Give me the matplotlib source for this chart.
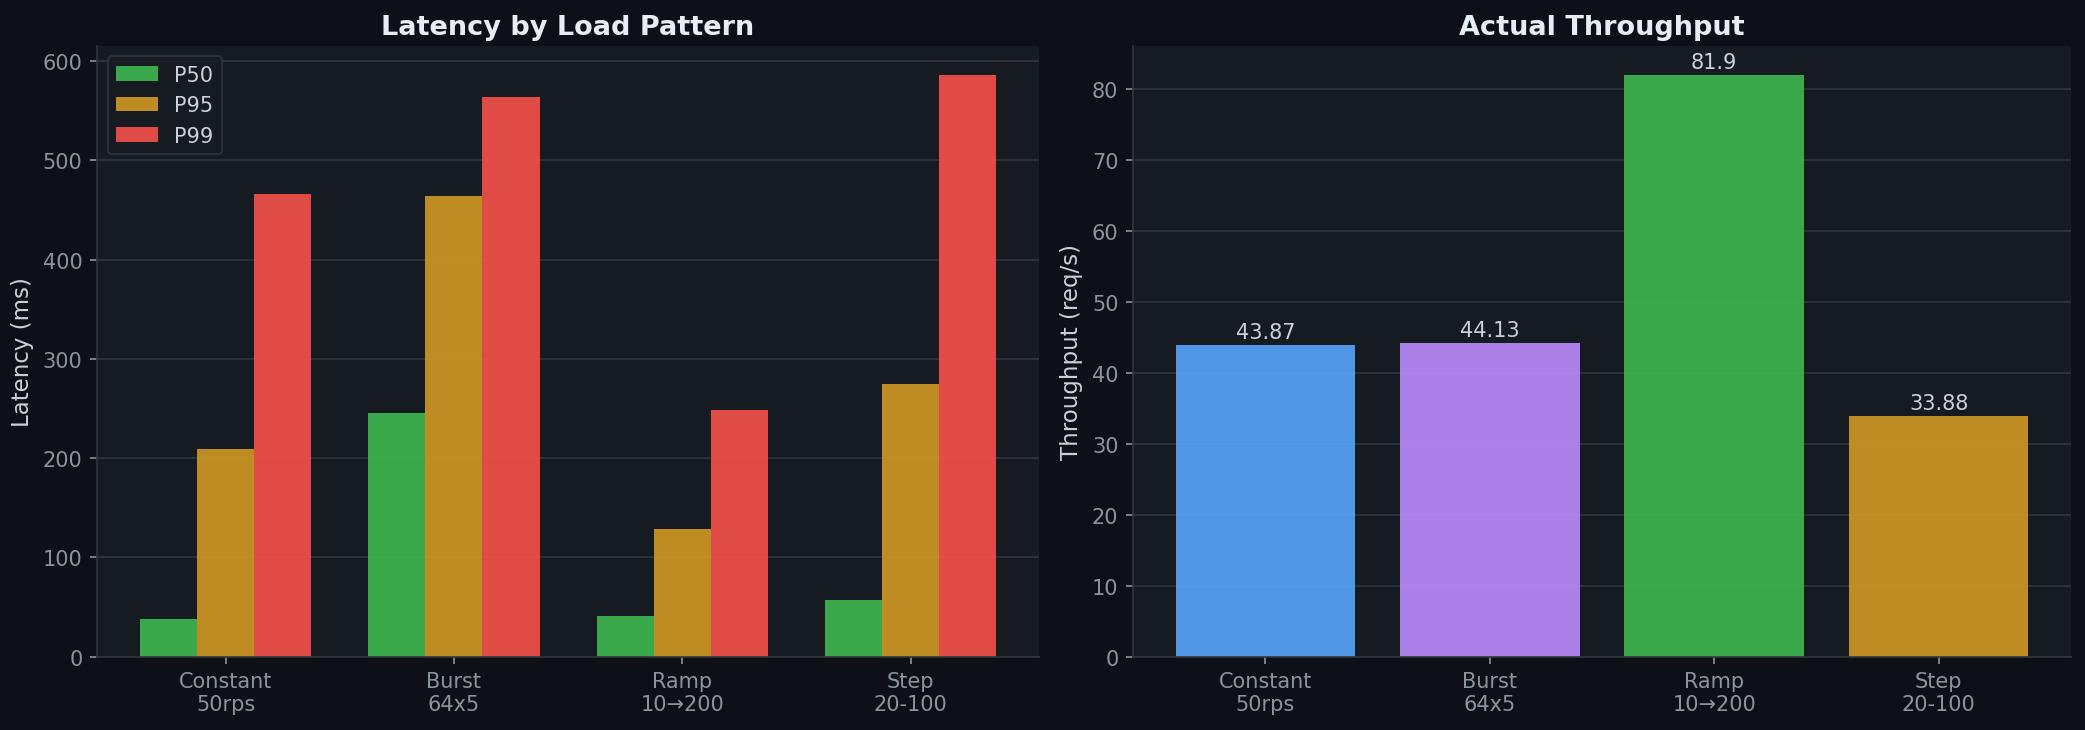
import numpy as np
import matplotlib
matplotlib.use("Agg")
import matplotlib.pyplot as plt

# data
patterns = ["Constant\n50rps", "Burst\n64x5", "Ramp\n10→200", "Step\n20-100"]
p50 = [38, 246, 41, 57]
p95 = [209, 464, 129, 275]
p99 = [466, 564, 249, 586]
throughput = [43.87, 44.13, 81.9, 33.88]
throughput_labels = ["43.87", "44.13", "81.9", "33.88"]

# github-dark style colours
BG = "#0d1117"
PANEL = "#161b22"
GRID = "#30363d"
TXT = "#e6edf3"
TICK = "#8b949e"
LABEL = "#c9d1d9"
GREEN = "#3fb950"
ORANGE = "#d29922"
RED = "#f85149"
BLUE = "#58a6ff"
PURPLE = "#bc8cff"

plt.rcParams['font.family'] = ['DejaVu Sans']

fig, (ax1, ax2) = plt.subplots(1, 2, figsize=(13.9, 4.873), dpi=150)
fig.patch.set_facecolor(BG)
ax1.set_position([0.0466, 0.1003, 0.4517, 0.8354])
ax2.set_position([0.5434, 0.1003, 0.4499, 0.8354])


def style(ax):
    ax.set_facecolor(PANEL)
    ax.set_axisbelow(True)
    ax.grid(True, axis='y', color=GRID, linewidth=0.8)
    for s in ['top', 'right']:
        ax.spines[s].set_visible(False)
    for s in ['left', 'bottom']:
        ax.spines[s].set_color(GRID)
    ax.tick_params(colors=TICK, labelsize=10)


# left: latency grouped bars
x = np.arange(len(patterns))
w = 0.25
style(ax1)
ax1.bar(x - w, p50, w, color=GREEN, alpha=0.9, label='P50')
ax1.bar(x, p95, w, color=ORANGE, alpha=0.9, label='P95')
ax1.bar(x + w, p99, w, color=RED, alpha=0.9, label='P99')
ax1.set_xticks(x)
ax1.set_xticklabels(patterns)
ax1.set_ylabel('Latency (ms)', color=LABEL, fontsize=11)
ax1.set_title('Latency by Load Pattern', color=TXT, fontsize=13, fontweight='bold')
leg = ax1.legend(loc='upper left', facecolor=PANEL, edgecolor=GRID, fontsize=10)
for t in leg.get_texts():
    t.set_color(LABEL)

# right: throughput
style(ax2)
bars = ax2.bar(x, throughput, 0.8, color=[BLUE, PURPLE, GREEN, ORANGE], alpha=0.9)
for b, lab in zip(bars, throughput_labels):
    ax2.annotate(lab, (b.get_x() + b.get_width() / 2, b.get_height()),
                 xytext=(0, 1.5), textcoords='offset points',
                 ha='center', va='bottom', color=LABEL, fontsize=10)
ax2.set_xticks(x)
ax2.set_xticklabels(patterns)
ax2.set_ylabel('Throughput (req/s)', color=LABEL, fontsize=11)
ax2.set_title('Actual Throughput', color=TXT, fontsize=13, fontweight='bold')

fig.savefig('out.png', dpi=150, facecolor=BG)
